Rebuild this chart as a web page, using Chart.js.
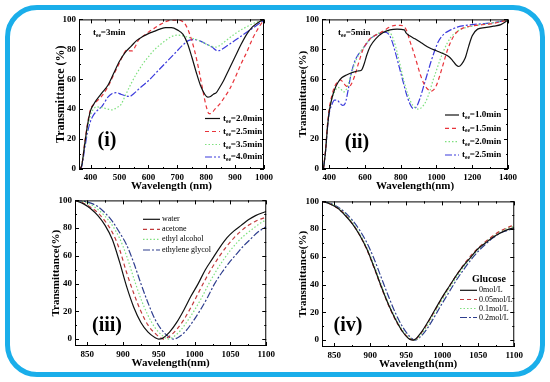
<!DOCTYPE html>
<html>
<head>
<meta charset="utf-8">
<script src="https://cdn.jsdelivr.net/npm/chart.js@4.4.1/dist/chart.umd.min.js"></script>
<style>
html, body { margin: 0; padding: 0; background: #fff; }
body { width: 550px; height: 382px; position: relative; overflow: hidden; }
.frame { position: absolute; left: 5px; top: 5px; width: 540px; height: 372px; box-sizing: border-box;
         border: 5px solid #1aaeea; border-radius: 32px; }
.panel { position: absolute; }
</style>
</head>
<body>
<div class="frame"></div>
<div class="panel" id="p1"><canvas id="c1"></canvas></div>
<div class="panel" id="p2"><canvas id="c2"></canvas></div>
<div class="panel" id="p3"><canvas id="c3"></canvas></div>
<div class="panel" id="p4"><canvas id="c4"></canvas></div>
<script>
// ---- tick labels ----
const yTicks = [0, 20, 40, 60, 80, 100];
const p1XTicks = [400, 500, 600, 700, 800, 900, 1000];
const p2XTicks = [400, 600, 800, 1000, 1200, 1400];
const p34XTicks = [850, 900, 950, 1000, 1050, 1100];

// ---- (i) t_ee = 3min ----
const p1Labels = ['t{ee}=2.0min', 't{ee}=2.5min', 't{ee}=3.5min', 't{ee}=4.0min'];
const p1WlA = [364,370,380,390,400,410,420,440,460,480,500,520,540,560,580,600,620,640,660,680,700,720,735,750,765,780,795,805,815,825,835,845,860,880,900,920,940,960,980,1000];
const p1TA  = [0,3,17,30,39,43,46,51,56,64,72,78,82,86,88.5,90.5,92,93.5,94.5,94.5,93,90,84,75,65,56,50,48,48.5,50,51,54,59,67,75,83,90,95,98,100];
const p1WlB = [364,370,380,390,400,410,420,440,460,480,500,515,525,535,545,555,565,580,600,620,640,660,680,700,715,730,745,760,775,790,800,810,820,830,845,860,880,900,920,940,960,980,1000];
const p1TB  = [0,3,18,31,40,43,45,49,55,63,71,77,79.5,79,79,82,86,88.5,91.5,94,96.5,98.5,99.5,99.5,99,96,89,79,66,51,42,37,37.5,40,43,47,53,61,70,78,87,94,100];
const p1WlC = [364,370,380,390,400,410,420,440,460,475,490,505,520,540,560,580,600,620,640,660,680,700,720,740,760,780,800,820,835,850,870,900,930,960,1000];
const p1TC  = [0,3,16,28,36,40,41.5,41,40,39.5,41,43,49,57,64,70,75,79.5,83,86,88.5,89.5,89,88,87,85.5,83.5,82,81.5,83,86,90.5,94,97,100];
const p1WlD = [364,370,380,390,400,410,420,440,460,475,490,505,520,535,550,570,600,630,660,690,720,740,760,780,800,820,840,850,870,900,930,960,1000];
const p1TD  = [0,2,14,25,32,36,38.5,42,48,50.5,51,50,49,48.5,50.5,54,59,65,71,77,83,86,86.5,85.5,83.5,81.5,79,79.5,82,86,90,94,99.5];

// ---- (ii) t_ee = 5min ----
const p2Labels = ['t{ee}=1.0min', 't{ee}=1.5min', 't{ee}=2.0min', 't{ee}=2.5min'];
const p2WlA = [368,380,390,400,415,430,450,470,500,530,560,580,595,610,630,660,700,740,780,820,830,850,880,920,960,1000,1040,1070,1090,1110,1125,1140,1160,1180,1200,1230,1270,1320,1360,1400];
const p2TA  = [0,12,27,38,47,53,58,61,63,64.5,65.5,66,70,76,82,87,91,93,93.5,93,91,89,87,84,81,79,77,75,72.5,69.5,68.5,70,74,82,89,93.5,94.5,95.5,96.5,99.5];
const p2WlB = [368,380,390,400,415,430,450,465,480,495,510,525,545,565,590,620,660,700,740,770,800,820,835,850,870,890,910,930,950,970,985,1000,1020,1040,1060,1080,1100,1130,1170,1220,1300,1400];
const p2TB  = [0,13,29,40,49,55,58.5,59.5,57.5,55.5,55,57,63,71,80,86,89.5,92,95,96,96,95,92,86,79,71,63,57,53.5,52,53,56,63,71,79,85,89.5,93,95,96,97,99.5];
const p2WlC = [368,380,390,400,415,430,450,465,480,495,510,530,555,580,610,640,680,710,740,760,780,800,820,840,860,880,900,920,940,960,980,1000,1020,1040,1060,1080,1110,1150,1200,1300,1400];
const p2TC  = [0,13,28,39,47,51.5,54.5,53.5,51.5,53,58,66,74,79,84,88,91,92,91,86.5,78,68,58,50,44,41,40,41.5,45,51,59,66,73,79,84,88,91.5,94,95.5,97.5,99.5];
const p2WlD = [368,380,390,400,415,430,445,460,475,490,505,520,540,560,580,610,640,680,710,730,750,770,790,810,830,850,870,890,910,930,950,970,990,1010,1040,1080,1120,1200,1300,1400];
const p2TD  = [0,12,27,37,43,46,46,44,42.5,44,52,62,71,76,79,84,88,90.5,91.5,90.5,86,78,69,60,51,44,40.5,42,48,56,64,72,79,85,90,93,95,96.5,97.5,99.5];

// ---- (iii) solvents ----
const p3Labels = ['water', 'acetone', 'ethyl alcohol', 'ethylene glycol'];
const p3WlA = [833,845,855,865,875,885,895,905,915,925,935,945,950,955,965,975,985,995,1005,1015,1025,1035,1045,1055,1065,1075,1085,1100];
const p3TA  = [100,97.5,94,89,82,72,56,38,23,12,5,1,0,0.5,5,12,21,31,40,50,58,66,73,78,82,86,89,92];
const p3WlB = [833,845,855,865,875,885,895,905,915,925,935,945,957,965,975,985,995,1005,1015,1025,1035,1045,1055,1065,1075,1085,1100];
const p3TB  = [100,98,95,91,85,77,65,48,33,20,10,4,0,2,7,14,23,33,43,52,60,67,73,78,82,85,88];
const p3WlC = [833,845,855,865,875,885,895,905,915,925,935,945,955,963,970,980,990,1000,1010,1020,1030,1040,1050,1060,1070,1080,1090,1100];
const p3TC  = [100,99,97,93.5,88.5,82,73,60,44,29,17,8,2.5,0,1.5,6,13,21,30,40,49,57,64,70,75,79,83,86];
const p3WlD = [833,845,855,865,875,885,895,905,915,925,935,945,955,963,970,978,988,998,1008,1018,1028,1038,1048,1058,1068,1078,1088,1100];
const p3TD  = [100,99.5,98,95.5,91,85,77,68,55,40,26,14,6,2,0,1.5,6,13,21,30,40,48,55,61,67,72,77,81];

// ---- (iv) glucose ----
const p4Labels = ['0mol/L', '0.05mol/L', '0.1mol/L', '0.2mol/L'];
const p4WlA = [833,845,855,865,875,885,895,905,915,925,935,945,955,960,970,980,990,1000,1010,1020,1030,1040,1050,1060,1070,1080,1090,1100];
const p4TA  = [100,98,95,90,84,76,66,53,39,26,15,6,0.5,0,5,13,22,31,39,47,54,60,66,70,74,77,79.5,81];
const p4WlB = [833,845,855,865,875,885,895,905,915,925,935,945,955,960,970,980,990,1000,1010,1020,1030,1040,1050,1060,1070,1080,1090,1100];
const p4TB  = [100,98,95,90.5,84,76,65.5,52.5,38.5,25.5,14.5,6,1,0,4.5,12.5,21.5,30.5,39,47,54.5,61,66.5,71,75,78.5,81,83];
const p4WlC = [833,845,855,865,875,885,895,905,915,925,935,945,955,962,970,980,990,1000,1010,1020,1030,1040,1050,1060,1070,1080,1090,1100];
const p4TC  = [100,98.5,95.5,91,85,77,67,54.5,40.5,27,16,7,1.5,0,3.5,11,20,29,37.5,45.5,53,59.5,65.5,70.5,74.5,78,80.5,82];
const p4WlD = [833,845,855,865,875,885,895,905,915,925,935,945,955,962,970,980,990,1000,1010,1020,1030,1040,1050,1060,1070,1080,1090,1100];
const p4TD  = [100,98.5,96,92,86.5,79.5,70.5,59,45.5,32,19.5,9.5,2.5,0,2.5,9,17.5,26.5,35,43.5,51,58,64,69,73.5,77,79,80.5];

// ---- styles ----
const FONT = '"Liberation Serif", "Times New Roman", serif';
Chart.defaults.font.family = FONT;
Chart.defaults.color = '#000';

const stylesBright = [
    { color: '#111111', dash: [] },
    { color: '#e8333a', dash: [4, 3] },
    { color: '#7ee07e', dash: [1.5, 2] },
    { color: '#3b3bdc', dash: [7, 2, 2, 2] }
];
const stylesDark = [
    { color: '#111111', dash: [] },
    { color: '#c0393b', dash: [4, 3] },
    { color: '#7ee07e', dash: [1.5, 2] },
    { color: '#2e3e8e', dash: [7, 2, 2, 2] }
];

// texte avec indice: 't{ee}=2.0min'
function richText(ctx, str, x, y, size, weight) {
    let cx = x;
    str.split(/(\{[^}]*\})/).forEach(p => {
        if (!p) return;
        const sub = p[0] === '{';
        const txt = sub ? p.slice(1, -1) : p;
        const fs = sub ? size * 0.6 : size;
        ctx.font = weight + ' ' + fs + 'px ' + FONT;
        ctx.fillText(txt, cx, sub ? y + size * 0.3 : y);
        cx += ctx.measureText(txt).width;
    });
}

// cadre, graduations internes, légende et annotations
const panelDeco = {
    id: 'panelDeco',
    afterDatasetsDraw(chart, args, o) {
        const { ctx, chartArea: a, scales: { x, y } } = chart;
        ctx.save();
        ctx.setLineDash([]);
        ctx.strokeStyle = '#000';
        ctx.lineWidth = 1;
        ctx.strokeRect(a.left + 0.5, a.top + 0.5, a.right - a.left - 1, a.bottom - a.top - 1);

        const line = (x1, y1, x2, y2) => { ctx.beginPath(); ctx.moveTo(x1, y1); ctx.lineTo(x2, y2); ctx.stroke(); };
        const xTick = (v, len) => {
            if (v < x.min || v > x.max) return;
            const px = Math.round(x.getPixelForValue(v)) + 0.5;
            line(px, a.bottom, px, a.bottom - len);
            line(px, a.top, px, a.top + len);
        };
        const yTick = (v, len) => {
            if (v < y.min || v > y.max) return;
            const py = Math.round(y.getPixelForValue(v)) + 0.5;
            line(a.left, py, a.left + len, py);
            line(a.right, py, a.right - len, py);
        };
        o.xTicks.forEach(v => { xTick(v, 4); xTick(v - o.xStep / 2, 2); xTick(v + o.xStep / 2, 2); });
        yTicks.forEach(v => { yTick(v, 4); yTick(v + 10, 2); });

        const ox = o.ox, oy = o.oy;
        ctx.fillStyle = '#000';
        ctx.textBaseline = 'middle';

        // légende
        const lg = o.legend;
        chart.data.datasets.forEach((ds, i) => {
            const ry = lg.rows[i] - oy;
            ctx.strokeStyle = ds.borderColor;
            ctx.lineWidth = ds.borderWidth;
            ctx.setLineDash(ds.borderDash || []);
            line(lg.x1 - ox, ry, lg.x2 - ox, ry);
            ctx.textAlign = 'left';
            richText(ctx, ds.label, lg.tx - ox, ry, lg.size, lg.weight);
        });
        ctx.setLineDash([]);

        // étiquettes
        (o.texts || []).forEach(t => {
            ctx.textAlign = t.align || 'left';
            richText(ctx, t.text, t.x - ox, t.y - oy, t.size, 'bold');
        });
        ctx.restore();
    }
};

function makeSeries(wls, ts, labels, styles) {
    return wls.map((wl, i) => ({
        label: labels[i],
        data: wl.map((w, k) => ({ x: w, y: ts[i][k] })),
        borderColor: styles[i].color,
        borderDash: styles[i].dash,
        borderWidth: 1.2,
        pointRadius: 0,
        fill: false,
        cubicInterpolationMode: 'monotone'
    }));
}

function makePanel(n, box, xr, yr, xTicks, xStep, xTitle, yTitle, yTitleSize, datasets, legend, texts) {
    const W = box.r - box.l + 48, H = box.b - box.t + 32;
    const left = box.l - 40, top = box.t - 8;
    const div = document.getElementById('p' + n);
    div.style.left = left + 'px';
    div.style.top = top + 'px';
    const canvas = document.getElementById('c' + n);
    canvas.width = W;
    canvas.height = H;
    canvas.style.width = W + 'px';
    canvas.style.height = H + 'px';

    return new Chart(canvas.getContext('2d'), {
        type: 'line',
        data: { datasets: datasets },
        options: {
            responsive: false,
            animation: false,
            devicePixelRatio: 1,
            layout: { padding: { top: 8, right: 8, left: 0, bottom: 0 } },
            scales: {
                x: {
                    type: 'linear', min: xr[0], max: xr[1],
                    afterBuildTicks: s => { s.ticks = xTicks.map(v => ({ value: v })); },
                    afterFit: s => { s.height = 24; },
                    grid: { display: false, drawTicks: false },
                    border: { display: false },
                    ticks: { padding: 3, autoSkip: false, maxRotation: 0, font: { size: 9, weight: 'bold' }, color: '#000',
                             callback: v => String(v) },
                    title: { display: true, text: xTitle, color: '#000', font: { size: 11, weight: 'bold' }, padding: { top: 0, bottom: 0 } }
                },
                y: {
                    type: 'linear', min: yr[0], max: yr[1],
                    afterBuildTicks: s => { s.ticks = yTicks.map(v => ({ value: v })); },
                    afterFit: s => { s.width = 40; },
                    grid: { display: false, drawTicks: false },
                    border: { display: false },
                    ticks: { padding: 3, font: { size: 9, weight: 'bold' }, color: '#000', callback: v => String(v) },
                    title: { display: true, text: yTitle, color: '#000', font: { size: yTitleSize, weight: 'bold' },
                             padding: { top: 21.5 - yTitleSize * 0.6, bottom: 0 } }
                }
            },
            plugins: {
                legend: { display: false },
                tooltip: { enabled: false },
                panelDeco: { ox: left, oy: top, xTicks: xTicks, xStep: xStep, legend: legend, texts: texts }
            }
        },
        plugins: [panelDeco]
    });
}

// (i)
makePanel(1, { l: 79, r: 268, t: 19, b: 169 }, [360, 1000], [0, 100], p1XTicks, 100,
    'Wavelength (nm)', 'Transmittance (%)', 12,
    makeSeries([p1WlA, p1WlB, p1WlC, p1WlD], [p1TA, p1TB, p1TC, p1TD], p1Labels, stylesBright),
    { x1: 205, x2: 220, tx: 223, rows: [118.5, 131.5, 144.5, 157], size: 9, weight: 'bold' },
    [{ text: '(i)', x: 107, y: 141, size: 20, align: 'center' },
     { text: 't{ee}=3min', x: 93, y: 33, size: 9 }]);

// (ii)
makePanel(2, { l: 322, r: 512, t: 19, b: 169 }, [360, 1400], [0, 100], p2XTicks, 200,
    'Wavelength(nm)', 'Transmittance(%)', 11,
    makeSeries([p2WlA, p2WlB, p2WlC, p2WlD], [p2TA, p2TB, p2TC, p2TD], p2Labels, stylesBright),
    { x1: 445, x2: 459, tx: 462, rows: [115, 128.3, 141.7, 155], size: 9, weight: 'bold' },
    [{ text: '(ii)', x: 357, y: 143, size: 20, align: 'center' },
     { text: 't{ee}=5min', x: 338, y: 33, size: 9 }]);

// (iii)
makePanel(3, { l: 75, r: 270, t: 200, b: 346 }, [833, 1100], [-5, 100], p34XTicks, 50,
    'Wavelength(nm)', 'Transmittance(%)', 11,
    makeSeries([p3WlA, p3WlB, p3WlC, p3WlD], [p3TA, p3TB, p3TC, p3TD], p3Labels, stylesDark),
    { x1: 143, x2: 160, tx: 162, rows: [219.3, 229.3, 239.3, 250], size: 8, weight: 'normal' },
    [{ text: '(iii)', x: 107, y: 326, size: 20, align: 'center' }]);

// (iv)
makePanel(4, { l: 322, r: 518, t: 201, b: 347 }, [833, 1100], [-5, 100], p34XTicks, 50,
    'Wavelength(nm)', 'Transmittance(%)', 11,
    makeSeries([p4WlA, p4WlB, p4WlC, p4WlD], [p4TA, p4TB, p4TC, p4TD], p4Labels, stylesDark),
    { x1: 460, x2: 477, tx: 479, rows: [290.3, 299.5, 308.5, 317.5], size: 8, weight: 'normal' },
    [{ text: '(iv)', x: 348, y: 326, size: 20, align: 'center' },
     { text: 'Glucose', x: 489, y: 279, size: 10, align: 'center' }]);
</script>
</body>
</html>
